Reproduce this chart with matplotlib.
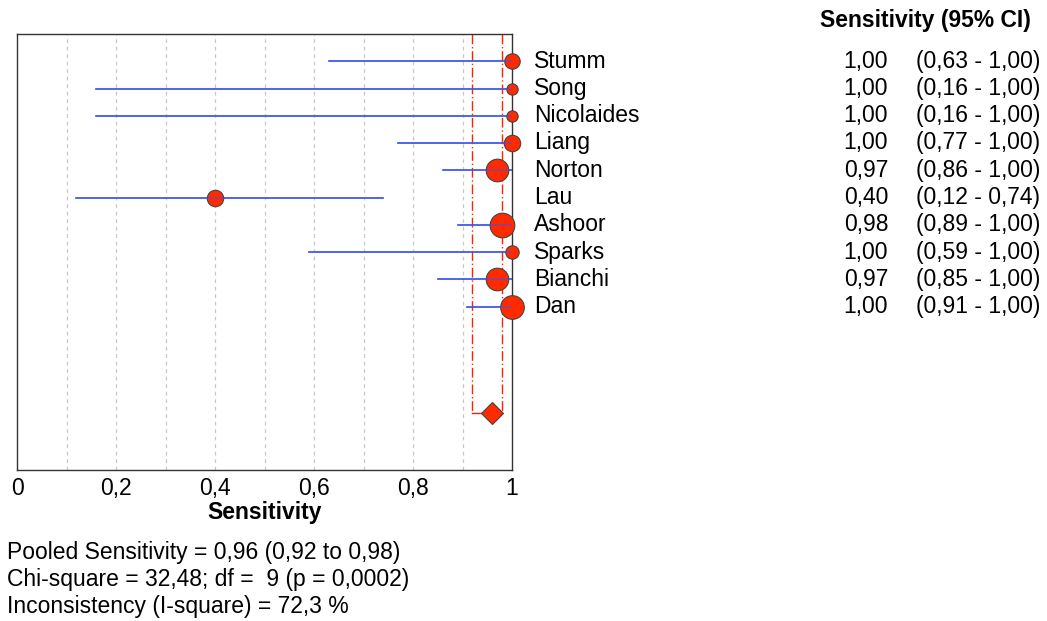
import matplotlib
matplotlib.use("Agg")
import matplotlib.pyplot as plt

plt.rcParams['font.family'] = ['Liberation Sans', 'DejaVu Sans']

# study data
studies = ["Stumm", "Song", "Nicolaides", "Liang", "Norton", "Lau", "Ashoor", "Sparks", "Bianchi", "Dan"]
sens = [1.00, 1.00, 1.00, 1.00, 0.97, 0.40, 0.98, 1.00, 0.97, 1.00]
ci_low = [0.63, 0.16, 0.16, 0.77, 0.86, 0.12, 0.89, 0.59, 0.85, 0.91]
ci_high = [1.00, 1.00, 1.00, 1.00, 1.00, 0.74, 1.00, 1.00, 1.00, 1.00]
weights = [15, 11, 11, 16, 22, 16, 24, 13, 22, 23]  # marker diameter estimates (px)

pooled = 0.96
pooled_low = 0.92
pooled_high = 0.98

summary_lines = [
    "Pooled Sensitivity = 0,96 (0,92 to 0,98)",
    "Chi-square = 32,48; df =  9 (p = 0,0002)",
    "Inconsistency (I-square) = 72,3 %",
]

FS = 16.5


def comma(v):
    return f"{v:.2f}".replace(".", ",")


fig = plt.figure(figsize=(10.47, 6.21), dpi=100)
ax = fig.add_axes([17 / 1047, 1 - 470 / 621, 495 / 1047, 436 / 621])

ax.set_xlim(0, 1)
ax.set_ylim(15, -1)

# grid
for gx in [0.1 * i for i in range(1, 10)]:
    ax.axvline(gx, color='#c8c8c8', linestyle=(0, (3, 3)), linewidth=0.9, zorder=0)

# pooled CI lines
diamond_y = 12.9
dash = (0, (7, 2, 1, 2))
ax.plot([pooled_low, pooled_low], [-1, diamond_y], color='#ff2200', linestyle=dash, linewidth=1, zorder=1)
ax.plot([pooled_high, pooled_high], [-1, diamond_y], color='#ff2200', linestyle=dash, linewidth=1, zorder=1)
ax.plot([pooled_low, pooled_high], [diamond_y, diamond_y], color='#ff2200', linewidth=1, zorder=1)

for i in range(len(studies)):
    ax.plot([ci_low[i], ci_high[i]], [i, i], color='#3a55ee', linewidth=1.1, zorder=2)
    ax.plot(sens[i], i, 'o', markersize=weights[i] * 0.74, markerfacecolor='#ff2a00',
            markeredgecolor='#444444', markeredgewidth=0.8, clip_on=False, zorder=3)
    ax.plot([ci_low[i], ci_high[i]], [i, i], color='#3a55ee', linewidth=1.1, zorder=4, alpha=0.6)

ax.plot(pooled, diamond_y, 'D', markersize=11, markerfacecolor='#ff2a00',
        markeredgecolor='#444444', markeredgewidth=0.8, clip_on=False, zorder=3)

# right-side columns
trans = ax.get_yaxis_transform()
for i, name in enumerate(studies):
    ax.text(1.045, i, name, transform=trans, fontsize=FS, va='center', ha='left')
    ax.text(1.76, i, comma(sens[i]), transform=trans, fontsize=FS, va='center', ha='right')
    ax.text(1.817, i, f"({comma(ci_low[i])} - {comma(ci_high[i])})", transform=trans,
            fontsize=FS, va='center', ha='left')

fig.text(925 / 1047, 1 - 21 / 621, "Sensitivity (95% CI)", fontsize=FS, fontweight='bold',
         ha='center', va='center')

ax.set_xticks([0, 0.2, 0.4, 0.6, 0.8, 1.0])
ax.set_xticklabels(["0", "0,2", "0,4", "0,6", "0,8", "1"], fontsize=FS)
ax.tick_params(axis='x', length=0, pad=5)
ax.set_yticks([])
ax.set_xlabel("Sensitivity", fontsize=FS, fontweight='bold', labelpad=1)
for s in ax.spines.values():
    s.set_color('#333333')
    s.set_linewidth(1)

for k, line in enumerate(summary_lines):
    fig.text(7 / 1047, 1 - (552 + 27.5 * k) / 621, line, fontsize=FS, ha='left', va='center')

fig.savefig("out.png", dpi=100)
